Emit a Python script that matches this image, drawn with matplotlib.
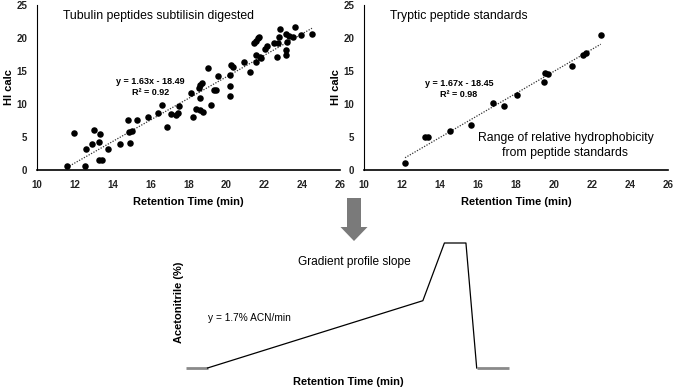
import numpy as np
import matplotlib
matplotlib.use('Agg')
import matplotlib.pyplot as plt
from matplotlib.patches import FancyArrow

plt.rcParams['font.family'] = ['Liberation Sans', 'DejaVu Sans']

# --- DATA ---

# Tubulin peptides, subtilisin digested
tub_rt = [11.59, 11.93, 12.53, 12.58, 12.88, 13.02, 13.30, 13.34, 13.30, 13.44,
          13.73, 14.36, 14.81, 14.86, 14.91, 15.00, 15.28, 15.85, 16.38, 16.61,
          16.89, 17.07, 17.33, 17.42, 17.51, 18.14, 18.22, 18.39, 18.53, 18.62,
          18.73, 18.60, 18.60, 18.75, 19.01, 19.20, 19.33, 19.47, 19.56, 20.19,
          20.19, 20.21, 20.25, 20.34, 20.92, 21.25, 21.45, 21.54, 21.66, 21.73,
          21.57, 21.59, 21.78, 21.84, 22.03, 22.16, 22.49, 22.72, 22.77, 22.81,
          22.67, 23.13, 23.13, 23.16, 23.20, 23.30, 23.52, 23.62, 23.96, 24.52]
tub_hi = [0.66, 5.58, 0.66, 3.15, 3.96, 5.99, 4.26, 5.38, 1.47, 1.57,
          3.25, 3.96, 7.51, 5.74, 4.16, 5.89, 7.61, 7.97, 8.63, 9.90,
          6.55, 8.53, 8.32, 8.58, 9.64, 11.73, 7.97, 9.24, 12.44, 12.84,
          13.15, 10.91, 9.09, 8.83, 15.38, 9.85, 12.08, 12.08, 14.31, 12.74,
          11.27, 14.42, 15.94, 15.58, 16.29, 14.87, 19.24, 19.54, 19.95, 20.20,
          16.40, 17.36, 17.16, 16.95, 18.38, 18.73, 19.29, 19.29, 20.15, 21.42,
          17.16, 18.12, 17.36, 20.56, 19.44, 20.30, 20.20, 21.68, 20.41, 20.56]
tub_fit = (1.63, -18.49)

# Tryptic peptide standards
std_rt = [12.16, 13.22, 13.39, 14.52, 15.62, 16.77, 17.35, 18.05, 19.46, 19.50,
          19.70, 20.93, 21.51, 21.70, 22.46]
std_hi = [1.00, 4.97, 4.97, 5.98, 6.78, 10.15, 9.75, 11.36, 13.27, 14.67,
          14.47, 15.83, 17.39, 17.74, 20.50]
std_fit = (1.67, -18.45)

x_ticks = [10, 12, 14, 16, 18, 20, 22, 24, 26]
y_ticks = [0, 5, 10, 15, 20, 25]

# Gradient profile (schematic)
grad_time = [0, 5, 55, 60, 65, 67.5, 75]
grad_acn = [5, 5, 40, 70, 70, 5, 5]

W, H = 676, 388
fig = plt.figure(figsize=(W / 100, H / 100), dpi=100)


def px_axes(x0, y0, x1, y1):
    # axes from pixel box (top-left origin)
    return fig.add_axes([x0 / W, 1 - y1 / H, (x1 - x0) / W, (y1 - y0) / H])


def scatter_panel(ax, rt, hi, fit, title, eq_xy, eq_text):
    ax.scatter(rt, hi, s=22, color='black', zorder=3, linewidths=0)
    xs = np.array([min(rt), max(rt)])
    ax.plot(xs, fit[0] * xs + fit[1], linestyle=(0, (1, 1.2)), color='#333333', lw=0.9)
    ax.set_xlim(10, 26)
    ax.set_ylim(0, 25)
    ax.set_xticks(x_ticks)
    ax.set_yticks(y_ticks)
    ax.tick_params(length=0, labelsize=7, pad=7)
    for lab in ax.get_xticklabels() + ax.get_yticklabels():
        lab.set_fontweight('bold')
        lab.set_color('#222222')
    for s in ['top', 'right']:
        ax.spines[s].set_visible(False)
    ax.spines['left'].set_linewidth(0.8)
    ax.spines['bottom'].set_linewidth(1.2)
    ax.set_xlabel('Retention Time (min)', fontsize=8, fontweight='bold', labelpad=5)
    ax.set_ylabel('HI calc', fontsize=8, fontweight='bold', labelpad=2)
    ax.text(0.085, 0.935, title, transform=ax.transAxes, fontsize=8.8, va='center')
    ax.text(eq_xy[0], eq_xy[1], eq_text, fontsize=6.5, fontweight='bold',
            ha='center', va='center', linespacing=1.3)


ax1 = px_axes(37, 5, 340, 170)
scatter_panel(ax1, tub_rt, tub_hi, tub_fit, 'Tubulin peptides subtilisin digested',
              (16.0, 12.6), 'y = 1.63x - 18.49\nR² = 0.92')

ax2 = px_axes(364, 5, 668, 170)
scatter_panel(ax2, std_rt, std_hi, std_fit, 'Tryptic peptide standards',
              (15.0, 12.3), 'y = 1.67x - 18.45\nR² = 0.98')
ax2.text(20.6, 3.7, 'Range of relative hydrophobicity\nfrom peptide standards',
         fontsize=8.8, ha='center', va='center', linespacing=1.35)

# arrow
fig.patches.append(FancyArrow(354 / W, 1 - 198 / H, 0, -(43 / H), width=14 / W,
                              head_width=27 / W, head_length=14 / H,
                              length_includes_head=True, transform=fig.transFigure,
                              color='#7a7a7a', lw=0))

# gradient profile
ax3 = px_axes(186, 243, 509, 368)
ax3.set_xlim(grad_time[0], grad_time[-1])
ax3.set_ylim(5, 70)
ax3.axis('off')
ax3.plot(grad_time[:2], grad_acn[:2], color='#8a8a8a', lw=2, clip_on=False, solid_capstyle='butt')
ax3.plot(grad_time[-2:], grad_acn[-2:], color='#8a8a8a', lw=2, clip_on=False, solid_capstyle='butt')
ax3.plot(grad_time[1:-1], grad_acn[1:-1], color='black', lw=0.9, clip_on=False)
fig.text(354 / W, 1 - 262 / H, 'Gradient profile slope', fontsize=8.6, ha='center', va='center')
fig.text(208 / W, 1 - 318 / H, 'y = 1.7% ACN/min', fontsize=7.3, ha='left', va='center')
fig.text(179 / W, 1 - 302 / H, 'Acetonitrile (%)', fontsize=8, fontweight='bold',
         rotation=90, ha='center', va='center')
fig.text(348 / W, 1 - 382 / H, 'Retention Time (min)', fontsize=8, fontweight='bold',
         ha='center', va='center')

fig.savefig('out.png', dpi=100)
